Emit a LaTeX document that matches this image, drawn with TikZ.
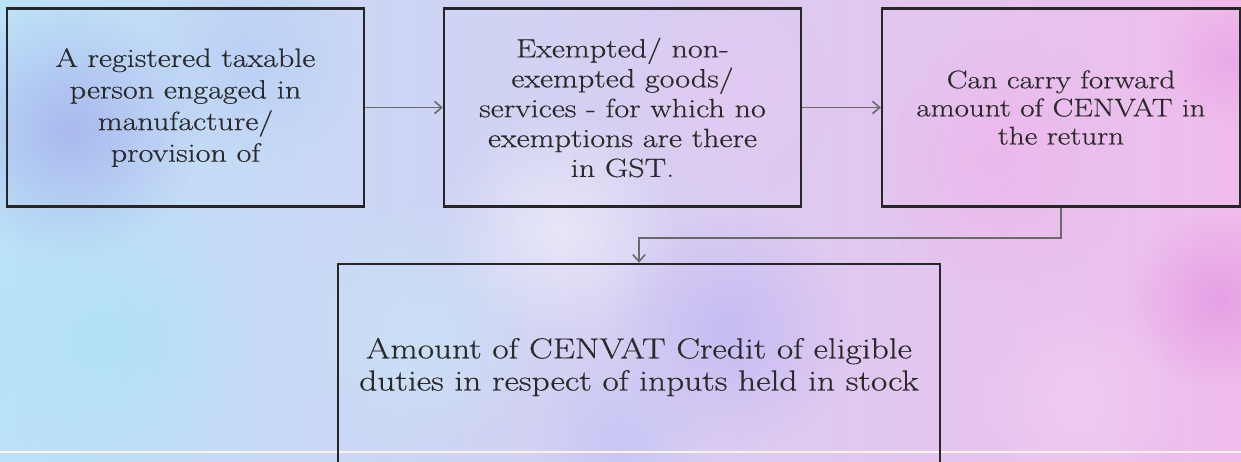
\documentclass[tikz,border=0pt]{standalone}
\usepackage{fontspec}
\setmainfont{Latin Modern Roman}[FakeStretch=1.22, FakeBold=0.5]
\usetikzlibrary{fadings,arrows.meta}
\definecolor{boxline}{RGB}{38,38,38}
\definecolor{linkgray}{RGB}{105,105,105}
\definecolor{txtgray}{RGB}{42,42,42}
\definecolor{bgblue}{RGB}{188,226,248}
\definecolor{bglav}{RGB}{230,226,248}
\definecolor{bgpink}{RGB}{240,188,236}
\definecolor{bgcream}{RGB}{250,242,228}
\tikzfading[name=blotfade, inner color=transparent!0, outer color=transparent!100]
\tikzset{
  stepbox/.style={draw=boxline, line width=1.4pt, align=center, text=txtgray,
    inner sep=0pt, minimum height=3.96cm, font=\fontsize{15}{17}\selectfont},
  link/.style={draw=linkgray, line width=0.9pt, -{Straight Barb[length=4pt,width=7pt]}},
  blot/.style={path fading=blotfade, opacity=#1},
}
\begin{document}
\begin{tikzpicture}[x=0.02cm, y=-0.02cm]
			%%%%% BACKGROUND %%%%%
			\useasboundingbox (0,0) rectangle (1241,461);
			\clip (0,0) rectangle (1241,461);
			\shade[left color=bgblue, middle color=bglav, right color=bgpink] (0,0) rectangle (1241,461);
			
			\fill[blot=.7, color={rgb,255:red,160;green,168;blue,235}] (70,130) circle (130);
			\fill[blot=.5, color={rgb,255:red,175;green,198;blue,245}] (250,60) circle (110);
			\fill[blot=.6, color={rgb,255:red,170;green,228;blue,250}] (110,340) circle (150);
			\fill[blot=.5, color={rgb,255:red,200;green,236;blue,250}] (420,330) circle (130);
			\fill[blot=.6, color={rgb,255:red,245;green,245;blue,252}] (560,230) circle (120);
			\fill[blot=.6, color={rgb,255:red,185;green,178;blue,245}] (730,330) circle (120);
			\fill[blot=.4, color={rgb,255:red,175;green,185;blue,250}] (620,440) circle (90);
			\fill[blot=.5, color={rgb,255:red,232;green,200;blue,245}] (720,90) circle (110);
			\fill[blot=.6, color={rgb,255:red,240;green,176;blue,234}] (1000,160) circle (130);
			\fill[blot=.7, color={rgb,255:red,226;green,148;blue,226}] (1220,300) circle (90);
			\fill[blot=.6, color={rgb,255:red,230;green,160;blue,230}] (1230,60) circle (70);
			\fill[blot=.5, color={rgb,255:red,248;green,215;blue,246}] (1080,400) circle (110);
			
			\draw[bgcream, line width=1.2pt] (0,452) -- (1241,452);
			
			%%%%% BOXES %%%%%
			\node[stepbox, minimum width=7.14cm, font=\fontsize{15}{18}\selectfont] (person) at (185.5,107.5)
				{A registered taxable\\person engaged in\\manufacture/\\provision of};
			\node[stepbox, minimum width=7.14cm] (goods) at (622.5,107.5)
				{Exempted/ non-\\exempted goods/\\services - for which no\\exemptions are there\\in GST.};
			\node[stepbox, minimum width=7.16cm, font=\fontsize{14.5}{16}\selectfont] (carry) at (1061,107.5)
				{Can carry forward\\amount of CENVAT in\\the return};
			\node[stepbox, minimum width=12.04cm, minimum height=4.12cm,
				font=\fontsize{16.5}{18.3}\selectfont] (credit) at (639,367)
				{Amount of CENVAT Credit of eligible\\duties in respect of inputs held in stock};
			
			\node[anchor=north, text=txtgray, font=\fontsize{8}{9}\selectfont] (date) at (1140,456) {25 October 2017};
			
			%%%%% LINKS %%%%%
			\draw[link] (person.east) -- (goods.west);
			\draw[link] (goods.east) -- (carry.west);
			\draw[link] (carry.south) -- ++(0,30) -| (credit.north);
			
			%%%%% END %%%%%
\end{tikzpicture}
\end{document}
